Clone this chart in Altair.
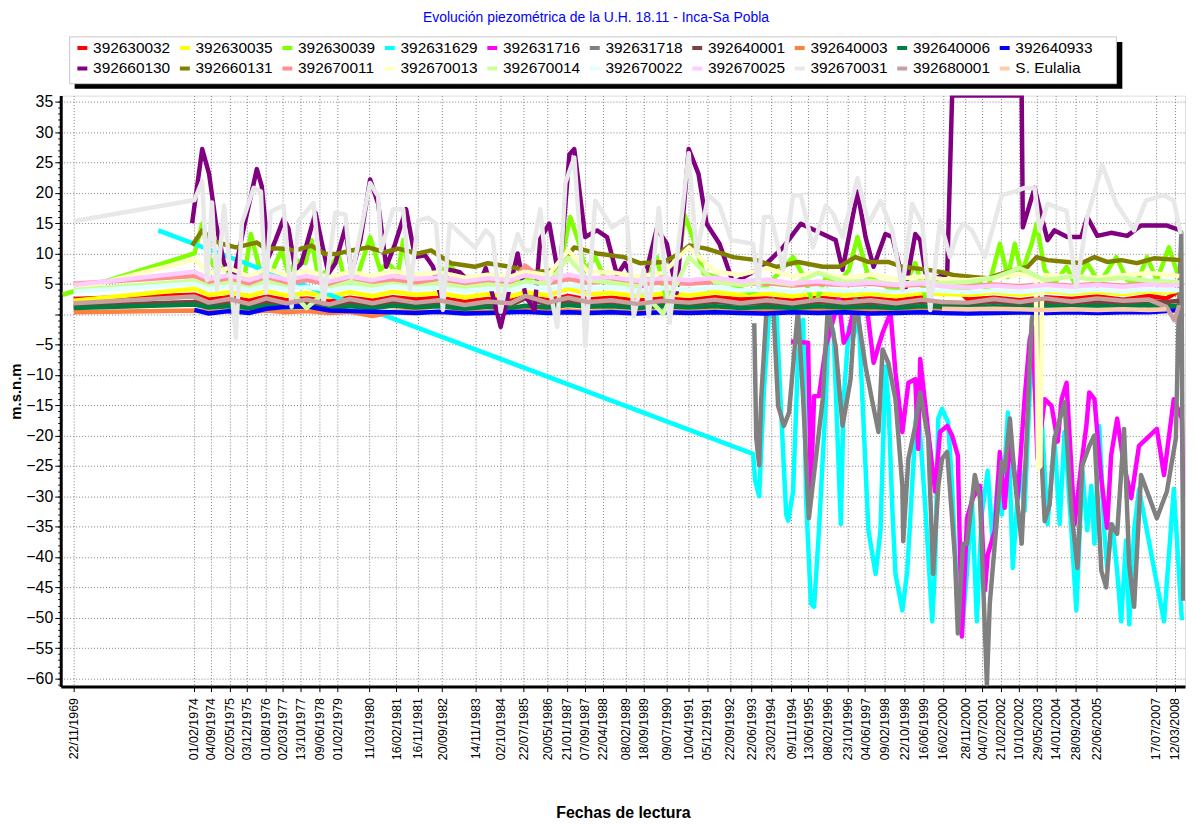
import altair as alt
import pandas as pd

SERIES = ["392630032", "392630035", "392630039", "392631629", "392631716",
          "392631718", "392640001", "392640003", "392640006", "392640933",
          "392660130", "392660131", "392670011", "392670013", "392670014",
          "392670022", "392670025", "392670031", "392680001", "S. Eulalia"]
COLORS = ["#FF0000", "#FFFF00", "#80FF00", "#00FFFF", "#FF00FF",
          "#808080", "#804040", "#FF8040", "#008040", "#0000FF",
          "#800080", "#808000", "#FF9090", "#FFFFC0", "#CCFF99",
          "#E0FFFF", "#FFCCFF", "#E8E8E8", "#C8A0A0", "#FFCCAA"]

TICK_DATES = ["22/11/1969", "01/02/1974", "04/09/1974", "02/05/1975", "03/12/1975",
              "01/08/1976", "02/03/1977", "13/10/1977", "09/06/1978", "01/02/1979",
              "11/03/1980", "16/02/1981", "16/11/1981", "20/09/1982", "14/11/1983",
              "02/10/1984", "22/07/1985", "20/05/1986", "21/01/1987", "07/09/1987",
              "22/04/1988", "08/02/1989", "18/09/1989", "09/07/1990", "10/04/1991",
              "05/12/1991", "22/09/1992", "22/06/1993", "23/02/1994", "09/11/1994",
              "13/06/1995", "08/02/1996", "23/10/1996", "04/06/1997", "09/02/1998",
              "22/10/1998", "16/06/1999", "16/02/2000", "28/11/2000", "04/07/2001",
              "21/02/2002", "10/10/2002", "29/05/2003", "14/01/2004", "28/09/2004",
              "22/06/2005", "17/07/2007", "12/03/2008"]

# ---- background (slowly varying) series on a common sampling ----
BG_YEARS = [1969.90, 1974.10, 1974.60, 1975.30, 1976.00, 1976.60, 1977.30, 1978.00, 1978.80, 1979.50,
            1980.30, 1981.00, 1981.80, 1982.60, 1983.50, 1984.30, 1985.10, 1985.60, 1986.40, 1987.10,
            1987.80, 1988.60, 1989.50, 1990.40, 1991.30, 1992.20, 1993.10, 1994.00, 1994.90, 1995.80,
            1996.70, 1997.60, 1998.50, 1999.40, 2000.10, 2001.00, 2001.90, 2002.80, 2003.70, 2004.60,
            2005.50, 2006.40, 2007.30, 2007.90, 2008.35]
RED = [2.5, 3.2, 2.4, 2.8, 2.2, 2.9, 2.3, 2.6, 2.1, 2.7, 2.2, 2.8, 2.4, 2.7, 2.0, 2.5, 2.2, 2.9, 2.3, 3.0,
       2.4, 2.7, 2.2, 2.6, 2.3, 2.8, 2.4, 2.6, 2.2, 2.7, 2.3, 2.6, 2.2, 2.8, 6.5, 2.4, 2.7, 2.3, 2.8, 2.5,
       2.9, 2.4, 3.0, 2.6, 3.8]
YELLOW = [2.2, 4.2, 3.2, 3.6, 3.0, 3.8, 3.1, 3.5, 2.9, 3.6, 3.0, 3.7, 3.2, 3.5, 2.8, 3.3, 3.0, 3.6, 3.1, 4.2,
          3.3, 3.5, 3.0, 3.4, 3.1, 3.6, 3.2, 3.4, 3.0, 3.5, 3.1, 3.4, 3.0, 3.5, 3.3, 3.2, 3.6, 3.2, 3.8, 3.4,
          3.7, 3.3, 3.8, 3.5, 3.9]
BROWN = [1.4, 2.0, 1.6, 1.9, 1.4, 2.0, 1.5, 1.8, 1.3, 1.9, 1.5, 2.0, 1.6, 1.9, 1.3, 1.7, 1.5, 2.6, 1.6, 2.1,
         1.7, 1.9, 1.5, 1.8, 1.6, 2.0, 1.7, 1.9, 1.5, 2.0, 1.6, 1.9, 1.6, 2.0, 1.8, 1.7, 2.0, 1.7, 2.1, 1.8,
         2.1, 1.8, 2.1, 2.0, 2.2]
ORANGE = [0.3, 0.6, 0.4, 0.5, 0.3, 0.6, 0.3, 0.5, 0.2, 0.4, -0.3, 0.4, 0.5, 0.3, 0.5, 0.4, 0.6, 0.9, 0.5, 0.6,
          0.4, 0.5, 0.3, 0.5, 0.4, 0.5, 0.3, 0.5, 0.4, 0.6, 0.5, 0.6, 0.4, 0.6, 0.5, 0.5, 0.6, 0.5, 0.6, 0.5,
          0.7, 0.6, 0.8, 0.8, 1.0]
DKGREEN = [1.0, 1.6, 1.1, 1.3, 1.0, 1.4, 1.1, 1.3, 0.9, 1.3, 1.0, 1.4, 1.1, 1.3, 0.9, 1.2, 1.0, 1.4, 1.1, 1.5,
           1.2, 1.3, 1.0, 1.3, 1.1, 1.3, 1.0, 1.2, 1.0, 1.3, 1.1, 1.2, 1.0, 1.3, 1.2, 1.1, 1.3, 1.1, 1.4, 1.2,
           1.4, 1.2, 1.5, 1.3, 1.4]
BLUE = [None, 0.7, 0.1, 0.5, 0.2, 0.9, 1.2, 1.3, 0.6, 0.5, 0.4, 0.3, 0.2, 0.4, 0.1, 0.2, 0.3, 0.4, 0.2, 0.3,
        0.2, 0.3, 0.1, 0.3, 0.2, 0.3, 0.2, 0.1, 0.3, 0.2, 0.3, 0.1, 0.2, 0.3, 0.2, 0.1, 0.2, 0.3, 0.2, 0.3,
        0.2, 0.3, 0.3, 0.5, 0.7]
SALMON = [5.0, 6.3, 5.3, 5.8, 5.0, 5.7, 5.1, 5.6, 4.9, 5.5, 5.0, 5.6, 5.2, 5.4, 4.8, 5.2, 5.0, 8.0, 5.1, 5.8,
          5.2, 5.4, 4.9, 5.2, 5.0, 5.3, 4.9, 5.1, 4.7, 5.0, 4.8, 5.0, 4.6, 4.9, 4.8, 4.6, 4.9, 4.6, 5.0, 4.7,
          5.0, 4.7, 5.1, 4.9, 5.0]
LYELLOW = [4.0, 9.0, 6.8, 7.6, 6.2, 7.5, 6.4, 7.2, 6.0, 7.0, 6.3, 7.1, 6.5, 6.9, 6.0, 6.5, 6.2, 7.0, 6.4, 10.5,
           7.0, 6.9, 6.2, 6.8, 11.0, 7.0, 6.5, 7.6, 6.2, 6.8, 6.0, 6.5, 5.8, 6.2, 5.8, 5.6, 6.0, 6.6, 6.4, 6.2,
           6.0, 6.4, 6.8, 6.5, 6.3]
LYELLOW_EXTRA_YEARS = [2003.36, 2003.44, 2003.52, 2003.58]
LYELLOW_EXTRA = [6.2, -25.4, -25.0, 5.9]
PALEGREEN = [4.0, 5.5, 4.6, 5.2, 4.3, 5.4, 4.5, 1.0, 4.3, 5.3, 4.6, 5.0, 4.5, 5.1, 4.4, 4.9, 4.6, 5.4, 5.0, 9.3,
             5.6, 5.2, 4.6, 0.0, 9.4, 5.3, 4.8, 5.4, 4.9, 6.8, 5.3, 5.5, 4.9, 5.4, 5.1, 5.3, 6.0, 7.6, 5.6, 6.2,
             5.6, 6.0, 5.5, 5.4, 5.2]
LCYAN = [3.7, 5.0, 4.2, 4.6, 4.0, 4.7, 4.1, 4.5, 3.9, 4.5, 4.0, 4.6, 4.2, 4.4, 3.8, 4.2, 4.0, 4.7, 4.1, 4.8,
         4.3, 4.4, 3.9, 4.3, 4.0, 4.4, 3.9, 4.1, 3.7, 4.1, 3.8, 4.0, 3.6, 4.0, 3.8, 3.6, 3.9, 3.6, 4.0, 3.7,
         4.0, 3.7, 4.1, 3.9, 4.0]
PINK = [4.8, 7.0, 5.8, 6.4, 5.6, 6.5, 5.7, 6.3, 5.4, 6.2, 5.6, 6.3, 5.8, 6.1, 5.4, 5.9, 5.6, 6.4, 5.7, 6.5,
        5.9, 6.1, 5.5, 5.9, 5.6, 6.0, 5.4, 5.7, 5.1, 5.4, 4.9, 5.2, 4.8, 5.1, 4.6, 4.4, 4.7, 4.4, 4.8, 4.5,
        4.8, 4.5, 4.9, 4.7, 4.8]
ROSE = [1.8, 2.9, 1.9, 2.5, 1.7, 2.6, 1.8, 2.4, 1.6, 2.5, 1.8, 2.5, 1.9, 2.3, 1.5, 2.1, 1.8, 3.0, 1.9, 2.7,
        2.0, 2.3, 1.7, 2.2, 1.9, 2.4, 1.8, 2.3, 1.8, 2.4, 1.9, 2.3, 1.8, 2.4, 2.0, 1.9, 2.5, 2.0, 2.6, 2.1,
        2.6, 2.2, 2.4, 1.2, 1.5]
ROSE_EXTRA_YEARS = [2008.18]
ROSE_EXTRA = [-1.0]
PEACH = [None] * 34 + [0.9, 0.8, 0.9, 0.8, 0.7, 0.8, 0.7, 0.8, 0.7, 0.8, None]

# ---- strongly varying series, each with its own dates ----
LGRAY_YEARS = [1969.90, 1974.10, 1974.37, 1974.54, 1974.71, 1974.88, 1975.13, 1975.54, 1975.75, 1976.16,
               1976.41, 1976.58, 1976.75, 1977.20, 1977.48, 1977.72, 1978.24, 1978.59, 1979.00, 1979.35,
               1979.56, 1980.21, 1980.49, 1980.59, 1981.01, 1981.36, 1981.60, 1981.88, 1982.22, 1982.50,
               1982.74, 1982.98, 1983.36, 1983.85, 1984.23, 1984.47, 1984.75, 1985.10, 1985.34, 1985.58,
               1985.86, 1986.13, 1986.37, 1986.72, 1987.00, 1987.31, 1987.52, 1987.69, 1988.04, 1988.62,
               1989.14, 1989.38, 1989.73, 1989.90, 1990.25, 1990.63, 1991.29, 1991.56, 1991.98, 1992.36,
               1992.77, 1993.53, 1993.71, 1993.91, 1994.16, 1994.57, 1994.92, 1995.19, 1995.61, 1996.06,
               1996.33, 1996.64, 1997.16, 1997.54, 1997.96, 1998.37, 1998.72, 1999.06, 1999.41, 1999.69,
               2000.03, 2000.38, 2000.62, 2000.83, 2001.14, 2001.59, 2002.18, 2002.63, 2002.97, 2003.32,
               2003.49, 2003.77, 2004.12, 2004.43, 2004.77, 2005.15, 2005.67, 2006.16, 2006.78, 2007.19,
               2007.82, 2008.16, 2008.40]
LGRAY = [15.3, 18.8, 21.9, 5.6, 18.4, 4.0, 17.9, -3.9, 15.0, 20.8,
         20.2, 3.5, 16.9, 17.9, 1.2, 15.4, 18.3, 1.8, 16.7, 16.4,
         6.0, 21.6, 19.4, 10.5, 17.3, 17.3, 4.0, 15.4, 15.9, 14.9,
         0.7, 14.9, 13.2, 11.0, 13.8, 12.7, 0.4, 8.9, 13.2, 10.5,
         10.5, 17.3, 6.1, -2.1, 21.6, 25.8, 12.2, -5.3, 18.7, 14.3,
         16.0, -0.4, 7.3, -0.4, 17.5, -1.4, 26.5, 10.0, 19.6, 17.9,
         12.2, 11.6, 4.4, 16.0, 16.0, 7.3, 19.6, 19.6, 11.0, 17.9,
         16.4, 12.7, 22.4, 14.9, 18.7, 13.8, 4.0, 18.2, 14.9, 0.7,
         15.4, 9.4, 13.2, 14.9, 13.8, 9.4, 19.6, 20.2, 20.8, 20.8,
         13.8, 18.2, 17.5, 17.0, 4.4, 16.0, 24.6, 18.2, 13.8, 18.7,
         19.6, 18.7, 13.2]

PURPLE_YEARS = [1974.02, 1974.37, 1974.61, 1974.85, 1975.13, 1975.47, 1975.82, 1976.27, 1976.44, 1976.68,
                1976.92, 1977.20, 1977.37, 1977.61, 1977.82, 1978.31, 1978.51, 1978.76, 1979.00, 1979.35,
                1979.56, 1979.87, 1980.21, 1980.49, 1980.77, 1981.08, 1981.46, 1981.77, 1982.12, 1982.40,
                1982.67, 1982.98, 1983.33, 1983.95, 1984.23, 1984.75, 1985.34, 1985.62, 1985.93, 1986.13,
                1986.44, 1986.79, 1987.14, 1987.31, 1987.69, 1988.10, 1988.45, 1988.80, 1989.07, 1989.38,
                1989.66, 1990.18, 1990.53, 1990.87, 1991.29, 1991.63, 1991.91, 1992.36, 1992.84, 1993.64,
                1993.88, 1994.57, 1995.19, 1995.95, 1996.40, 1996.64, 1997.16, 1997.44, 1997.72, 1998.13,
                1998.37, 1998.82, 1999.17, 1999.34, 1999.62, 1999.97, 2000.28, 2000.45, 2002.87, 2002.91,
                2003.32, 2003.56, 2003.77, 2004.01, 2004.46, 2004.94, 2005.15, 2005.50, 2005.98, 2006.54,
                2007.02, 2007.92, 2008.40]
PURPLE = [15.0, 27.2, 23.1, 14.9, 8.4, 6.1, 14.3, 23.9, 21.1, 9.4,
          12.2, 15.7, 14.1, 7.3, 8.4, 16.7, 12.2, 6.7, 8.4, 14.3,
          6.7, 12.2, 22.2, 18.2, 7.8, 11.6, 17.3, 9.4, 9.7, 7.8,
          2.9, 7.3, 6.9, 4.0, 7.6, -2.1, 10.0, 2.9, 0.7, 12.4,
          14.9, 5.6, 26.3, 27.2, 12.7, 13.8, 12.7, 6.4, 8.4, 5.6,
          4.0, 14.1, 11.6, 3.5, 27.2, 23.1, 14.9, 11.6, 5.1, 7.3,
          7.8, 11.0, 14.9, 13.2, 12.2, 7.3, 20.2, 12.7, 7.8, 13.2,
          12.7, 4.0, 13.2, 12.2, 4.0, 6.1, 6.7, 36.0, 36.0, 14.3,
          20.8, 16.1, 12.2, 13.8, 12.7, 12.7, 16.0, 12.9, 13.4, 12.9,
          14.6, 14.6, 13.8]

GREEN_YEARS = [1969.52, 1974.10, 1974.37, 1974.61, 1974.85, 1975.20, 1975.47, 1975.82, 1976.06, 1976.41,
               1976.61, 1976.92, 1977.13, 1977.37, 1977.65, 1977.96, 1978.17, 1978.41, 1978.76, 1979.11,
               1979.38, 1979.80, 1980.21, 1980.56, 1980.83, 1981.18, 1981.36, 1981.60, 1982.05, 1982.40,
               1982.98, 1983.26, 1983.95, 1984.30, 1984.58, 1985.34, 1986.13, 1986.72, 1987.17, 1987.48,
               1987.69, 1988.04, 1988.35, 1988.80, 1989.73, 1990.18, 1990.53, 1990.87, 1991.15, 1991.46,
               1991.81, 1992.26, 1992.71, 1993.40, 1993.99, 1994.92, 1995.30, 1995.65, 1996.06, 1996.51,
               1996.86, 1997.16, 1997.54, 1997.96, 1998.37, 1998.72, 1999.17, 1999.52, 1999.93, 2000.55,
               2001.00, 2001.31, 2001.69, 2002.11, 2002.39, 2002.63, 2002.87, 2003.22, 2003.39, 2003.67,
               2004.01, 2004.43, 2004.71, 2005.15, 2005.57, 2006.16, 2006.54, 2006.88, 2007.23, 2007.57,
               2007.99, 2008.33]
GREEN = [3.2, 10.0, 14.9, 9.4, 7.3, 7.8, 4.5, 5.6, 13.2, 6.7,
         4.5, 8.4, 10.5, 6.7, 8.9, 8.4, 12.2, 6.1, 7.3, 9.9,
         4.5, 6.7, 12.7, 7.3, 8.4, 6.7, 12.2, 6.1, 5.6, 5.9,
         8.1, 6.7, 5.1, 6.7, 5.1, 5.6, 6.1, 5.6, 16.0, 11.6,
         7.3, 9.4, 6.1, 5.6, 4.5, 9.4, 1.8, 6.1, 16.3, 12.2,
         6.7, 6.1, 5.1, 3.5, 4.5, 9.4, 6.1, 1.2, 6.1, 5.1,
         7.3, 12.7, 6.1, 5.1, 4.0, 4.0, 8.4, 2.9, 6.1, 4.0,
         4.0, 5.6, 4.0, 11.6, 6.1, 11.6, 6.7, 11.6, 14.9, 7.3,
         5.1, 7.8, 5.1, 8.4, 5.1, 9.4, 5.6, 5.1, 9.4, 5.6,
         11.0, 6.1]

OLIVE_YEARS = [1974.02, 1974.37, 1974.71, 1975.06, 1975.54, 1976.27, 1976.58, 1977.13, 1977.61, 1978.17,
               1978.65, 1979.00, 1979.56, 1980.14, 1980.73, 1981.18, 1981.88, 1982.33, 1983.02, 1983.85,
               1984.30, 1985.10, 1985.93, 1986.72, 1987.31, 1988.10, 1989.04, 1989.59, 1990.42, 1990.87,
               1991.32, 1991.91, 1992.84, 1993.64, 1994.33, 1995.09, 1995.95, 1996.51, 1997.09, 1997.54,
               1998.23, 1998.72, 1999.62, 2000.10, 2000.55, 2001.24, 2001.69, 2002.18, 2002.63, 2003.08,
               2003.39, 2003.77, 2004.46, 2004.94, 2005.40, 2005.84, 2006.33, 2006.88, 2007.47, 2008.40]
OLIVE = [11.3, 13.8, 12.2, 11.6, 11.0, 11.8, 10.8, 10.8, 10.5, 11.3,
         9.9, 9.9, 10.5, 11.0, 10.2, 10.8, 10.0, 10.5, 8.4, 7.8,
         8.4, 7.8, 6.9, 7.3, 11.0, 10.0, 9.4, 8.4, 8.6, 9.7,
         11.3, 10.8, 9.4, 8.9, 7.8, 8.6, 7.8, 7.8, 9.4, 8.6,
         8.6, 7.8, 7.3, 6.9, 6.4, 6.1, 5.9, 6.7, 7.3, 7.8,
         9.4, 8.9, 8.6, 8.4, 9.4, 8.6, 8.9, 8.4, 9.2, 8.9]

CYAN_YEARS = [1972.84, 1993.53, 1993.60, 1993.74, 1993.91, 1994.09, 1994.33, 1994.50, 1994.68, 1994.75,
              1994.92, 1995.09, 1995.27, 1995.37, 1995.54, 1995.65, 1995.82, 1996.06, 1996.17, 1996.33,
              1996.58, 1996.68, 1996.86, 1996.99, 1997.20, 1997.54, 1997.79, 1997.96, 1998.13, 1998.24,
              1998.37, 1998.48, 1998.72, 1998.89, 1999.06, 1999.24, 1999.52, 1999.76, 1999.86, 1999.97,
              2000.10, 2000.31, 2000.45, 2000.62, 2000.79, 2000.97, 2001.14, 2001.31, 2001.48, 2001.69,
              2001.86, 2002.04, 2002.18, 2002.39, 2002.56, 2002.80, 2002.97, 2003.15, 2003.32, 2003.56,
              2003.77, 2004.01, 2004.19, 2004.36, 2004.60, 2004.77, 2004.98, 2005.15, 2005.29, 2005.40,
              2005.57, 2005.74, 2005.84, 2006.02, 2006.19, 2006.33, 2006.50, 2006.61, 2006.78, 2006.95,
              2007.82, 2008.16, 2008.44]
CYAN = [13.8, -23.0, -27.4, -30.0, -12.3, 0.2, 1.5, -15.6, -33.0, -34.0,
        -29.2, -7.4, -0.9, -30.3, -47.7, -48.2, -35.6, -14.0, -0.4, -3.1,
        -34.6, -14.0, -2.1, -4.2, -0.4, -35.6, -42.8, -35.6, -8.6, -15.1,
        -31.9, -42.8, -48.8, -42.3, -28.3, -13.5, -31.9, -50.6, -41.3, -17.2,
        -15.6, -17.8, -28.3, -46.6, -52.6, -42.3, -30.3, -50.6, -33.0, -25.8,
        -37.8, -27.4, -33.0, -16.2, -41.8, -24.9, -32.4, -12.9, -5.8, -16.7,
        -34.6, -20.5, -34.6, -19.4, -35.6, -48.8, -25.8, -35.6, -28.3, -37.8,
        -18.4, -35.6, -41.8, -34.6, -42.3, -50.6, -37.3, -51.1, -35.6, -28.8,
        -50.6, -28.8, -50.4]

GRAY_YEARS = [1993.57, 1993.64, 1993.74, 1993.81, 1993.98, 1994.22, 1994.40, 1994.60, 1994.78, 1995.09,
              1995.27, 1995.47, 1995.71, 1995.95, 1996.13, 1996.40, 1996.64, 1996.92, 1997.09, 1997.44,
              1997.68, 1997.89, 1998.03, 1998.23, 1998.48, 1998.72, 1998.75, 1998.93, 1999.17, 1999.34,
              1999.62, 1999.79, 1999.97, 2000.10, 2000.28, 2000.55, 2000.65, 2000.83, 2000.97, 2001.24,
              2001.42, 2001.66, 2001.76, 2002.04, 2002.18, 2002.28, 2002.46, 2002.63, 2002.87, 2003.04,
              2003.22, 2003.39, 2003.56, 2003.67, 2003.84, 2004.01, 2004.36, 2004.60, 2004.81, 2004.98,
              2005.22, 2005.40, 2005.64, 2005.81, 2005.98, 2006.19, 2006.43, 2006.61, 2006.78, 2007.02,
              2007.57, 2007.92, 2008.23, 2008.33, 2008.42, 2008.49]
GRAY = [-1.5, -20.5, -24.9, -14.0, -0.4, 2.4, -15.1, -18.4, -16.2, 0.7,
        -14.0, -33.6, -23.8, -14.0, 1.2, -5.3, -18.4, -10.7, 2.4, -8.6,
        -14.5, -19.4, -5.8, -8.0, -14.0, -28.3, -37.4, -23.8, -18.4, -12.9,
        -20.5, -42.8, -28.3, -23.8, -22.7, -40.1, -52.6, -37.8, -37.8, -26.5,
        -30.3, -61.0, -47.7, -31.9, -24.3, -25.9, -17.2, -27.1, -37.8, -20.5,
        -0.9, 2.4, -23.8, -34.1, -31.4, -20.5, -14.5, -32.4, -41.8, -24.9,
        -21.7, -20.0, -42.3, -45.0, -34.6, -36.2, -18.9, -41.3, -48.2, -26.5,
        -33.6, -29.2, -20.5, 0.2, 13.5, -47.2]

MAGENTA_YEARS = [1994.85, 1995.44, 1995.54, 1995.65, 1995.82, 1996.06, 1996.51, 1996.68, 1996.86, 1997.09,
                 1997.51, 1997.72, 1998.03, 1998.31, 1998.48, 1998.72, 1998.93, 1999.17, 1999.27, 1999.34,
                 1999.62, 1999.86, 2000.03, 2000.28, 2000.45, 2000.65, 2000.79, 2000.97, 2001.17, 2001.42,
                 2001.59, 2001.69, 2001.94, 2002.11, 2002.28, 2002.46, 2002.73, 2002.97, 2003.15, 2003.25,
                 2003.42, 2003.67, 2003.91, 2004.12, 2004.26, 2004.43, 2004.71, 2004.94, 2005.12, 2005.22,
                 2005.40, 2005.64, 2005.84, 2005.98, 2006.19, 2006.43, 2006.68, 2006.95, 2007.57, 2007.82,
                 2008.16, 2008.44, 2008.49]
MAGENTA = [-4.5, -4.7, -29.2, -13.5, -13.5, -5.3, 2.4, -4.7, -3.1, 2.4,
           0.2, -8.0, -3.1, 0.2, -9.6, -19.4, -11.3, -10.7, -22.2, -7.4,
           -19.4, -29.2, -19.4, -18.4, -20.0, -23.3, -53.1, -33.6, -30.3, -28.3,
           -45.5, -39.6, -35.6, -22.7, -31.9, -20.5, -30.3, -14.0, -4.2, -2.1,
           -23.8, -14.0, -15.1, -21.0, -14.0, -11.3, -34.6, -24.9, -18.4, -12.9,
           -14.0, -27.1, -35.2, -23.3, -17.2, -24.9, -30.3, -21.7, -18.9, -26.5,
           -14.0, -17.2, -30.3]

MINOR_TICKS = list(range(-61, 36))
Y_TICKS = list(range(-60, 40, 5))


def year_to_ms(y):
    return (y - 1970.0) * 365.2425 * 86400000.0


SOURCES = {
    "392630032": (BG_YEARS, RED),
    "392630035": (BG_YEARS, YELLOW),
    "392630039": (GREEN_YEARS, GREEN),
    "392631629": (CYAN_YEARS, CYAN),
    "392631716": (MAGENTA_YEARS, MAGENTA),
    "392631718": (GRAY_YEARS, GRAY),
    "392640001": (BG_YEARS, BROWN),
    "392640003": (BG_YEARS, ORANGE),
    "392640006": (BG_YEARS, DKGREEN),
    "392640933": (BG_YEARS, BLUE),
    "392660130": (PURPLE_YEARS, PURPLE),
    "392660131": (OLIVE_YEARS, OLIVE),
    "392670011": (BG_YEARS, SALMON),
    "392670013": (BG_YEARS + LYELLOW_EXTRA_YEARS, LYELLOW + LYELLOW_EXTRA),
    "392670014": (BG_YEARS, PALEGREEN),
    "392670022": (BG_YEARS, LCYAN),
    "392670025": (BG_YEARS, PINK),
    "392670031": (LGRAY_YEARS, LGRAY),
    "392680001": (BG_YEARS + ROSE_EXTRA_YEARS, ROSE + ROSE_EXTRA),
    "S. Eulalia": (BG_YEARS, PEACH),
}

rows = []
for name in SERIES:
    yrs, vals = SOURCES[name]
    for yy, vv in zip(yrs, vals):
        if vv is None:
            continue
        rows.append({"serie": name, "t": year_to_ms(yy), "v": vv})
df = pd.DataFrame(rows)

tick_ms = [float(pd.Timestamp(pd.to_datetime(d, format="%d/%m/%Y")).value // 10**6) for d in TICK_DATES]
x_domain = [year_to_ms(1969.45), year_to_ms(2008.55)]
y_domain = [-61.35, 36.0]

FONT = "Liberation Sans"
yscale = alt.Scale(domain=y_domain, nice=False, zero=False)

x_enc = alt.X(
    "t:T",
    scale=alt.Scale(type="utc", domain=x_domain, nice=False),
    axis=alt.Axis(
        values=tick_ms,
        labelExpr="utcFormat(datum.value, '%d/%m/%Y')",
        labelAngle=270, labelFontSize=12.5, labelFont=FONT, labelColor="black",
        labelOverlap=False, labelPadding=6, labelFlush=False,
        tickSize=5, tickColor="black",
        domainColor="black", domainWidth=3,
        grid=True, gridColor="#808080", gridDash=[1, 2], gridWidth=1,
        title="Fechas de lectura", titleFont=FONT, titleFontSize=16,
        titleFontWeight="bold", titleColor="black", titlePadding=45,
    ),
)

y_enc = alt.Y(
    "v:Q",
    scale=yscale,
    axis=alt.Axis(
        values=Y_TICKS,
        labelExpr="datum.value == 0 ? '' : datum.label",
        labelFontSize=16, labelFont=FONT, labelColor="black", labelPadding=2,
        tickSize=6, tickColor="black",
        domainColor="black", domainWidth=3,
        grid=True, gridColor="#808080", gridDash=[1, 2], gridWidth=1,
        title="m.s.n.m", titleFont=FONT, titleFontSize=15, titleFontWeight="bold",
        titleColor="black", titlePadding=2, orient="left",
    ),
)

color_enc = alt.Color(
    "serie:N",
    scale=alt.Scale(domain=SERIES, range=COLORS),
    sort=SERIES,
    legend=alt.Legend(
        orient="none", legendX=10, legendY=-60, direction="horizontal", columns=10,
        title=None, symbolType="stroke", symbolSize=100, symbolStrokeWidth=4,
        labelFont=FONT, labelFontSize=15.5, labelColor="black", labelOffset=3,
        labelLimit=300, columnPadding=0, rowPadding=3, padding=4,
    ),
)

lines = alt.Chart(df).mark_line(strokeWidth=4.5, clip=True, strokeJoin="round").encode(
    x=x_enc, y=y_enc, color=color_enc
)

minor = alt.Chart(pd.DataFrame({"v": MINOR_TICKS})).mark_point(opacity=0).encode(
    x=alt.value(0),
    y=alt.Y("v:Q", scale=yscale, axis=alt.Axis(
        orient="left", values=MINOR_TICKS, labels=False, domain=False, grid=False,
        ticks=True, tickSize=3, tickColor="black", title=None)),
)

deco = pd.DataFrame({"k": [0]})
shadow = alt.Chart(deco).mark_rect(color="black").encode(
    x=alt.value(14), x2=alt.value(1067), y=alt.value(-54), y2=alt.value(-7))
box = alt.Chart(deco).mark_rect(fill="white", stroke="#c8c8c8", strokeWidth=1).encode(
    x=alt.value(9), x2=alt.value(1061), y=alt.value(-59), y2=alt.value(-12))

chart = alt.layer(shadow, box, lines, minor).resolve_axis(y="independent").properties(
    width=1130, height=594,
    padding={"left": 53, "top": 86, "right": 2, "bottom": 132},
    autosize=alt.AutoSizeParams(type="none"),
    title=alt.TitleParams(
        text="Evolución piezométrica de la U.H. 18.11 - Inca-Sa Pobla",
        font=FONT, fontSize=14, fontWeight="normal", color="#0000FF",
        anchor="middle", frame="group", offset=-3, dx=-27, baseline="bottom",
    ),
).configure_view(stroke="black", strokeWidth=1).configure(background="white")

chart.save("out.html", embed_options={"renderer": "svg", "actions": False})
